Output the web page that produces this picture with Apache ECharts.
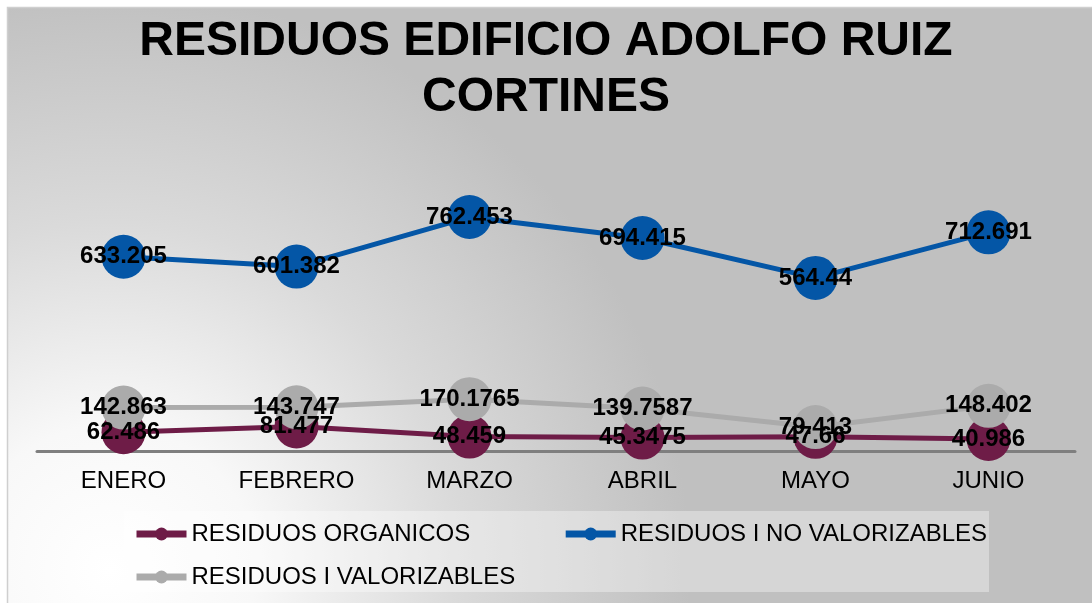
<!DOCTYPE html>
<html>
<head>
<meta charset="utf-8">
<script src="https://cdn.jsdelivr.net/npm/echarts@6/dist/echarts.min.js"></script>
<style>html,body{margin:0;padding:0;background:#fff;}#c{width:1092px;height:603px;}</style>
</head>
<body>
<div id="c"></div>
<script>
const categories = ['ENERO', 'FEBRERO', 'MARZO', 'ABRIL', 'MAYO', 'JUNIO'];
const organicos = [62.486, 81.477, 48.459, 45.3475, 47.66, 40.986];
const noValorizables = [633.205, 601.382, 762.453, 694.415, 564.44, 712.691];
const valorizables = [142.863, 143.747, 170.1765, 139.7587, 79.413, 148.402];
const seriesNames = ['RESIDUOS ORGANICOS', 'RESIDUOS I NO VALORIZABLES', 'RESIDUOS I VALORIZABLES'];
const titleText = 'RESIDUOS EDIFICIO ADOLFO RUIZ\nCORTINES';

const FONT = '"Liberation Sans", Arial, sans-serif';
const chart = echarts.init(document.getElementById('c'));

function lineSeries(name, data, color) {
  return {
    name: name,
    type: 'line',
    data: data,
    symbol: 'circle',
    symbolSize: 44,
    showSymbol: true,
    lineStyle: { color: color, width: 5 },
    itemStyle: { color: color },
    label: {
      show: true,
      position: 'inside',
      color: '#000',
      fontFamily: FONT,
      fontWeight: 'bold',
      fontSize: 24
    },
    emphasis: { disabled: true },
    animation: false
  };
}

chart.setOption({
  backgroundColor: '#ffffff',
  animation: false,
  title: {
    text: titleText,
    left: 'center',
    top: 9,
    textStyle: {
      fontFamily: FONT,
      fontWeight: 'bold',
      fontSize: 48,
      lineHeight: 56,
      color: '#000'
    }
  },
  graphic: [
    {
      type: 'rect',
      z: -10,
      silent: true,
      shape: { x: 7.5, y: 7.5, width: 1100, height: 610 },
      style: {
        fill: {
          type: 'radial', x: 110, y: 570, r: 580, global: true,
          colorStops: [
            { offset: 0, color: '#ffffff' },
            { offset: 0.25, color: '#f8f8f8' },
            { offset: 0.6, color: '#dadada' },
            { offset: 1, color: '#c0c0c0' }
          ]
        },
        stroke: '#cfcfcf',
        lineWidth: 1.5
      }
    },
    {
      type: 'rect',
      z: 1,
      silent: true,
      shape: { x: 124, y: 511, width: 865, height: 81 },
      style: { fill: 'rgba(255,255,255,0.35)' }
    }
  ],
  legend: [
    {
      data: [seriesNames[0], seriesNames[1]],
      left: 133,
      top: 522,
      padding: 0,
      itemGap: 92,
      itemWidth: 50,
      itemHeight: 16,
      lineStyle: { width: 7 },
      textStyle: { fontFamily: FONT, fontSize: 24, color: '#000' },
      selectedMode: false
    },
    {
      data: [seriesNames[2]],
      left: 133,
      top: 565,
      padding: 0,
      itemWidth: 50,
      itemHeight: 16,
      lineStyle: { width: 7 },
      textStyle: { fontFamily: FONT, fontSize: 24, color: '#000' },
      selectedMode: false
    }
  ],
  grid: { left: 37, right: 17, top: 174.75, bottom: 151.5 },
  xAxis: {
    type: 'category',
    data: categories,
    boundaryGap: true,
    offset: 2,
    axisLine: { show: true, lineStyle: { color: '#7f7f7f', width: 3 } },
    axisTick: { show: false },
    axisLabel: { fontFamily: FONT, fontSize: 24, color: '#000', margin: 16 },
    splitLine: { show: false }
  },
  yAxis: {
    type: 'value',
    min: 0,
    max: 900,
    show: false,
    splitLine: { show: false }
  },
  series: [
    lineSeries(seriesNames[0], organicos, '#6e1c47'),
    lineSeries(seriesNames[1], noValorizables, '#0456a6'),
    lineSeries(seriesNames[2], valorizables, '#ababab')
  ]
});
</script>
</body>
</html>
